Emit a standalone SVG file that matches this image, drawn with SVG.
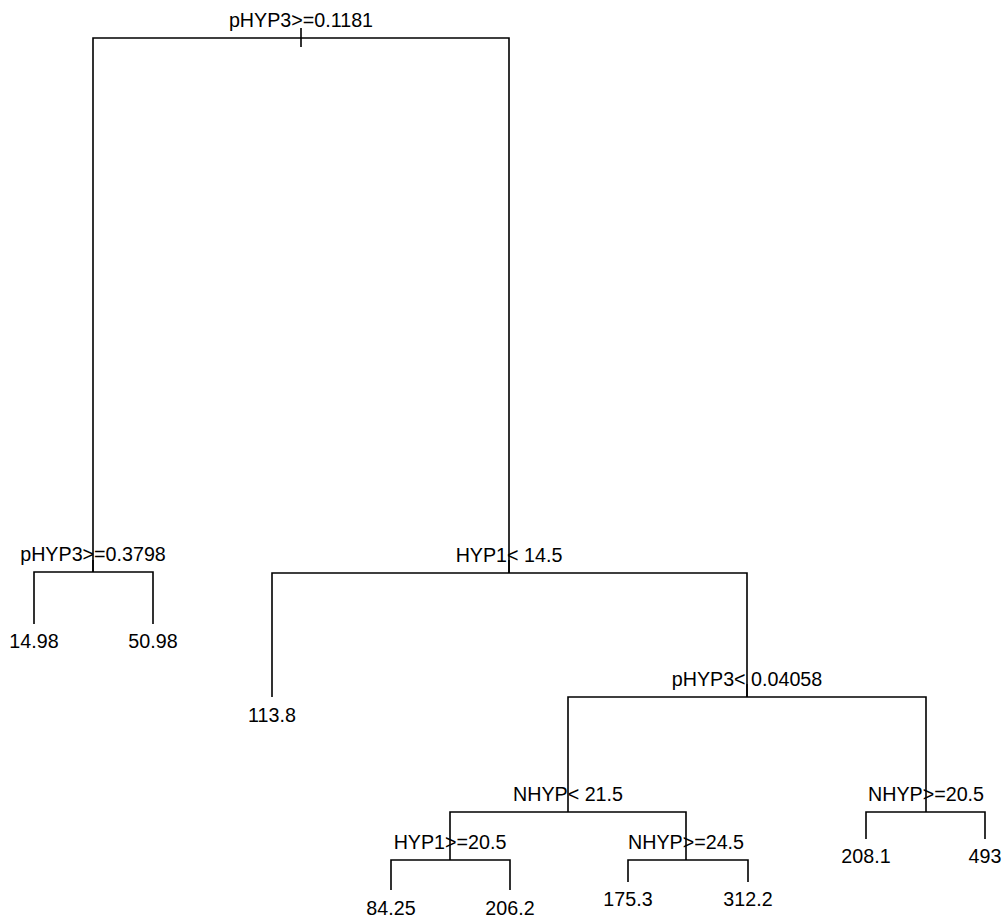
<svg xmlns="http://www.w3.org/2000/svg" width="1008" height="923" viewBox="0 0 1008 923">
<style>
text{font-family:"Liberation Sans",Arial,sans-serif;font-size:19.7px;fill:#000;text-anchor:middle}
.e{fill:none;stroke:#000;stroke-width:1.6}
</style>
<rect width="1008" height="923" fill="#fff"/>
<g id="connectors" class="e">
<path d="M301,28V47"/>
<path d="M93,572V38H509V573"/>
<path d="M34,624V572H153V624"/>
<path d="M93,572V560"/>
<path d="M272,697V573H747V697"/>
<path d="M509,573V560"/>
<path d="M568,812V697H926V812"/>
<path d="M747,697V684"/>
<path d="M391,890V860H510V890"/>
<path d="M450,860V812H686V860"/>
<path d="M628,882V860H748V882"/>
<path d="M866,839V812H985V839"/>
</g>
<g id="n1"><text x="301" y="27">pHYP3&gt;=0.1181</text></g>
<g id="n2"><text x="93" y="561">pHYP3&gt;=0.3798</text></g>
<g id="n3"><text x="509" y="562">HYP1&lt; 14.5</text></g>
<g id="n4"><text x="747" y="686">pHYP3&lt; 0.04058</text></g>
<g id="n5"><text x="568" y="801">NHYP&lt; 21.5</text></g>
<g id="n6"><text x="926" y="801">NHYP&gt;=20.5</text></g>
<g id="n7"><text x="450" y="849">HYP1&gt;=20.5</text></g>
<g id="n8"><text x="686" y="849">NHYP&gt;=24.5</text></g>
<g id="l1"><text x="34" y="648">14.98</text></g>
<g id="l2"><text x="153" y="648">50.98</text></g>
<g id="l3"><text x="272" y="722">113.8</text></g>
<g id="l4"><text x="391" y="915">84.25</text></g>
<g id="l5"><text x="510" y="915">206.2</text></g>
<g id="l6"><text x="628" y="906">175.3</text></g>
<g id="l7"><text x="748" y="906">312.2</text></g>
<g id="l8"><text x="866" y="863">208.1</text></g>
<g id="l9"><text x="985" y="863">493</text></g>
</svg>
